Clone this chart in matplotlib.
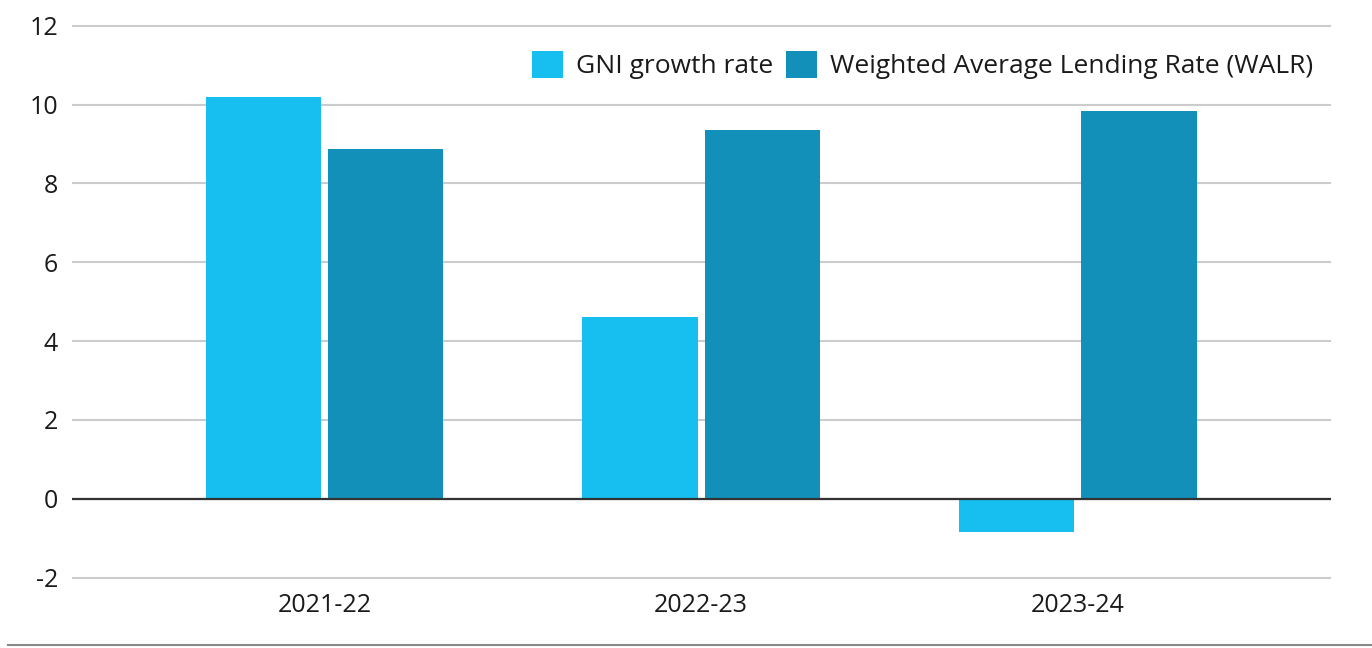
import numpy as np
import matplotlib.pyplot as plt
from matplotlib.lines import Line2D

# ---------------- DATA ----------------
years = ["2021-22", "2022-23", "2023-24"]
gni_growth = [10.18, 4.62, -0.85]
walr = [8.87, 9.36, 9.84]
y_ticks = [-2, 0, 2, 4, 6, 8, 10, 12]

GNI_COLOR = "#17BEF0"
WALR_COLOR = "#1390B9"

plt.rcParams["font.family"] = ["Open Sans", "DejaVu Sans"]

fig = plt.figure(figsize=(13.72, 6.48), dpi=100)
ax = fig.add_axes([0.0525, 0.1025, 0.9175, 0.8639])

x = np.arange(len(years))
w = 0.306
off = w / 2 + 0.0095

ax.bar(x - off, gni_growth, width=w, color=GNI_COLOR, label="GNI growth rate", zorder=3)
ax.bar(x + off, walr, width=w, color=WALR_COLOR,
       label="Weighted Average Lending Rate (WALR)", zorder=3)

ax.set_xlim(-0.671, 2.672)
ax.set_ylim(-2.1, 12.1)
ax.set_yticks(y_ticks)
ax.set_yticklabels([str(t) for t in y_ticks])
ax.set_xticks(x)
ax.set_xticklabels(years)

ax.grid(axis="y", color="#cccccc", linewidth=1.5, zorder=0)
ax.axhline(0, color="#333333", linewidth=1.6, zorder=4)

for s in ax.spines.values():
    s.set_visible(False)
ax.tick_params(axis="both", length=0, labelsize=18, colors="#1a1a1a")
ax.tick_params(axis="y", pad=10)
ax.tick_params(axis="x", pad=8)

ax.legend(loc="upper right", bbox_to_anchor=(1.005, 0.99), ncol=2, frameon=False,
          fontsize=19, handlelength=1.17, handleheight=1.17, handletextpad=0.5,
          columnspacing=0.5, labelcolor="#1a1a1a")

# bottom separator line
fig.add_artist(Line2D([0.006, 1.0], [0.004, 0.004], color="#888888", linewidth=1.5,
                      transform=fig.transFigure))

fig.savefig("out.png", dpi=100)
